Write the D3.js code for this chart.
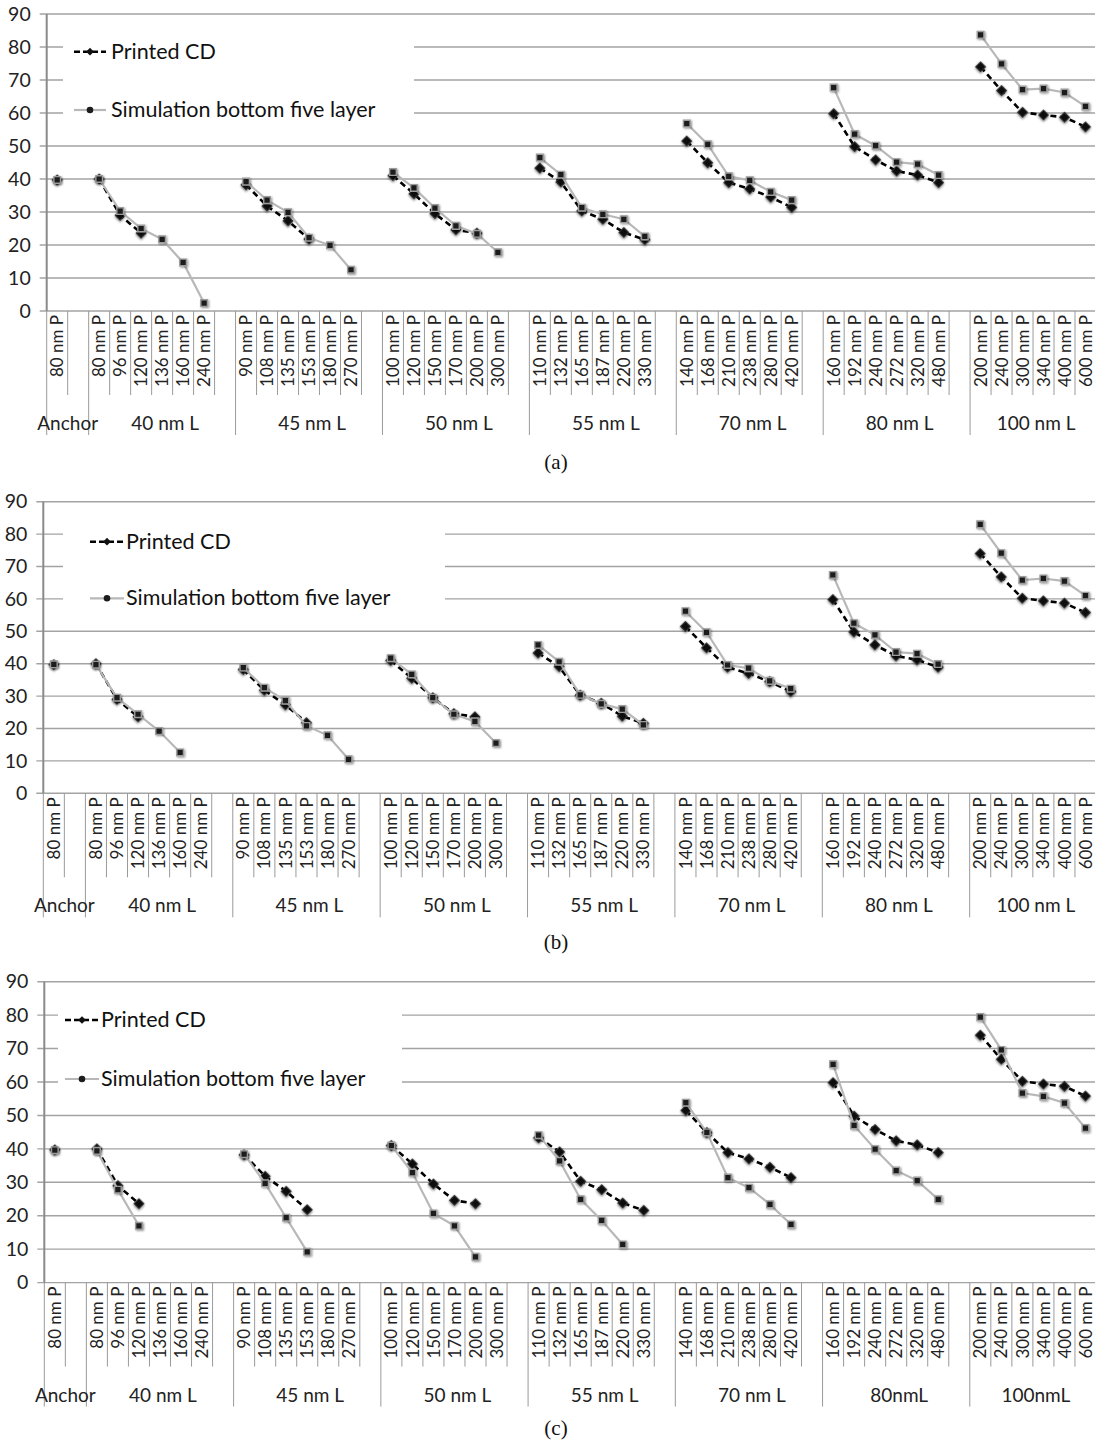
<!DOCTYPE html>
<html>
<head>
<meta charset="utf-8">
<script src="https://cdn.jsdelivr.net/npm/d3@7"></script>
<style>
  body { margin: 0; background: #fff; }
  svg { display: block; font-family: Lato, "Open Sans", sans-serif; }
</style>
</head>
<body>
<svg id="chart" width="1095" height="1448"></svg>
<script>
/* Printed CD vs. simulated CD (bottom five layers), three panels sharing one category axis.
   Empty slots separate the line-width groups, so lines break between groups. */

// one entry per category slot ("" = spacer slot between groups)
const SLOT_LABELS = [
  "80 nm P", "",
  "80 nm P", "96 nm P", "120 nm P", "136 nm P", "160 nm P", "240 nm P", "",
  "90 nm P", "108 nm P", "135 nm P", "153 nm P", "180 nm P", "270 nm P", "",
  "100 nm P", "120 nm P", "150 nm P", "170 nm P", "200 nm P", "300 nm P", "",
  "110 nm P", "132 nm P", "165 nm P", "187 nm P", "220 nm P", "330 nm P", "",
  "140 nm P", "168 nm P", "210 nm P", "238 nm P", "280 nm P", "420 nm P", "",
  "160 nm P", "192 nm P", "240 nm P", "272 nm P", "320 nm P", "480 nm P", "",
  "200 nm P", "240 nm P", "300 nm P", "340 nm P", "400 nm P", "600 nm P"
];
const GROUP_SIZES = [2, 7, 7, 7, 7, 7, 7, 6];
const GROUP_LABELS_AB = ["Anchor", "40 nm L", "45 nm L", "50 nm L", "55 nm L", "70 nm L", "80 nm L", "100 nm L"];
const GROUP_LABELS_C  = ["Anchor", "40 nm L", "45 nm L", "50 nm L", "55 nm L", "70 nm L", "80nmL", "100nmL"];

const Y_TICKS = [0, 10, 20, 30, 40, 50, 60, 70, 80, 90];

// measured CD, same in every panel
const PRINTED = [
  39.7, null,
  40, 29, 23.6, null, null, null, null,
  38.2, 31.8, 27.3, 21.8, null, null, null,
  41, 35.5, 29.5, 24.6, 23.6, null, null,
  43.3, 39.1, 30.3, 27.8, 23.8, 21.6, null,
  51.5, 44.9, 38.9, 37, 34.5, 31.4, null,
  59.8, 49.8, 45.8, 42.4, 41.2, 38.9, null,
  74, 66.8, 60.2, 59.4, 58.7, 55.8
];
const SIM_A = [
  39.7, null,
  40, 30.3, 25, 21.7, 14.7, 2.4, null,
  39.2, 33.6, 29.9, 22.2, 19.9, 12.5, null,
  42.1, 37.3, 31.2, 25.8, 23.4, 17.8, null,
  46.5, 41.3, 31.3, 29.3, 27.8, 22.6, null,
  56.8, 50.5, 40.8, 39.6, 36.1, 33.6, null,
  67.7, 53.6, 50.1, 45.1, 44.5, 41.2, null,
  83.7, 74.9, 67.1, 67.4, 66.2, 62
];
const SIM_B = [
  39.8, null,
  39.7, 29.5, 24.4, 19.2, 12.6, null, null,
  38.8, 32.6, 28.6, 20.8, 17.9, 10.5, null,
  41.7, 36.7, 29.5, 24.4, 22.2, 15.5, null,
  45.8, 40.6, 30.4, 27.6, 26, 21.1, null,
  56.2, 49.7, 39.6, 38.6, 34.7, 32.3, null,
  67.4, 52.5, 48.9, 43.6, 43.1, 39.9, null,
  83, 74.1, 65.8, 66.3, 65.5, 61
];
const SIM_C = [
  39.6, null,
  39.4, 27.8, 17, null, null, null, null,
  38.4, 29.7, 19.4, 9.2, null, null, null,
  41, 32.9, 20.7, 17, 7.7, null, null,
  44.1, 36.4, 24.9, 18.6, 11.4, null, null,
  53.8, 44.9, 31.4, 28.4, 23.4, 17.4, null,
  65.3, 47, 39.9, 33.5, 30.5, 24.9, null,
  79.4, 69.6, 56.7, 55.7, 53.7, 46.2
];

const RIGHT = 1096;
const GRID = "#a3a3a3";

// layout of each panel (pixel boxes only, values come from the arrays above)
const PANELS = [
  { sim: SIM_A, groups: GROUP_LABELS_AB, top: 14, bottom: 311, left: 46.7, caption: "(a)", capY: 469,
    legend: { x0: 63, x1: 414, y0: 24, y1: 136, sx0: 74, sx1: 106, tx: 111, ly1: 51.7, ly2: 110 } },
  { sim: SIM_B, groups: GROUP_LABELS_AB, top: 501.7, bottom: 793.3, left: 43.3, caption: "(b)", capY: 949,
    legend: { x0: 63, x1: 445, y0: 512, y1: 624, sx0: 90, sx1: 124, tx: 126, ly1: 541.7, ly2: 598.3 } },
  { sim: SIM_C, groups: GROUP_LABELS_C, top: 981.7, bottom: 1282.6, left: 44.3, caption: "(c)", capY: 1435,
    legend: { x0: 58, x1: 402, y0: 992, y1: 1105, sx0: 65, sx1: 99, tx: 101, ly1: 1020, ly2: 1079 } }
];

const svg = d3.select("#chart");

// soft shadow like the spreadsheet markers
const defs = svg.append("defs");
defs.append("filter").attr("id", "shadow").attr("x", "-50%").attr("y", "-50%").attr("width", "200%").attr("height", "200%")
  .append("feDropShadow").attr("dx", 1).attr("dy", 1).attr("stdDeviation", 1.1)
  .attr("flood-color", "#000").attr("flood-opacity", 0.45);

const diamond = d3.symbol(d3.symbolSquare, 52)();
const square  = d3.symbol(d3.symbolSquare, 44)();

function drawPanel(p) {
  const g = svg.append("g");
  const x = d3.scaleBand().domain(d3.range(SLOT_LABELS.length)).range([p.left, RIGHT]);
  const y = d3.scaleLinear().domain([0, 90]).range([p.bottom, p.top]);
  const cx = i => x(i) + x.bandwidth() / 2;

  // horizontal gridlines (0 line doubles as the x axis)
  g.append("g").selectAll("line").data(Y_TICKS).join("line")
    .attr("x1", p.left - 7).attr("x2", RIGHT)
    .attr("y1", d => y(d)).attr("y2", d => y(d))
    .attr("stroke", GRID).attr("stroke-width", 1.4);

  // y tick labels
  const yAxis = g.append("g").attr("transform", `translate(${p.left - 9},0)`)
    .call(d3.axisLeft(y).tickValues(Y_TICKS).tickSize(0).tickPadding(7));
  yAxis.select(".domain").remove();
  yAxis.selectAll("text").attr("font-size", 19.5).attr("font-family", "Lato").attr("fill", "#222");

  // white legend box hides the gridlines behind it
  const L = p.legend;
  g.append("rect").attr("x", L.x0).attr("y", L.y0)
    .attr("width", L.x1 - L.x0).attr("height", L.y1 - L.y0).attr("fill", "#fff");

  // category separators: short at every slot edge, long at group edges
  const groupEdges = new Set([0]);
  d3.cumsum(GROUP_SIZES).forEach(v => groupEdges.add(v));
  const edgeX = i => i < SLOT_LABELS.length ? x(i) : RIGHT;
  g.append("g").selectAll("line").data(d3.range(SLOT_LABELS.length + 1)).join("line")
    .attr("x1", edgeX).attr("x2", edgeX)
    .attr("y1", p.bottom).attr("y2", i => p.bottom + (groupEdges.has(i) ? 124 : 84))
    .attr("stroke", "#9a9a9a").attr("stroke-width", 1);

  // y axis line
  g.append("line").attr("x1", p.left).attr("x2", p.left)
    .attr("y1", p.top).attr("y2", p.bottom)
    .attr("stroke", "#8a8a8a").attr("stroke-width", 2);

  // rotated slot labels
  const xAxis = g.append("g").attr("transform", `translate(0,${p.bottom})`)
    .call(d3.axisBottom(x).tickSize(0).tickFormat(i => SLOT_LABELS[i]));
  xAxis.select(".domain").remove();
  xAxis.selectAll("text")
    .attr("font-size", 17).attr("font-family", "Lato").attr("fill", "#222")
    .attr("text-anchor", "end")
    .attr("transform", "rotate(-90)")
    .attr("x", -4).attr("y", 0).attr("dy", "0.36em");

  // group labels centred under their whole group span
  const starts = [0, ...d3.cumsum(GROUP_SIZES)];
  g.append("g").selectAll("text").data(p.groups).join("text")
    .attr("x", (d, i) => (edgeX(starts[i]) + edgeX(starts[i + 1])) / 2 + (i === 0 ? 0 : 3))
    .attr("y", p.bottom + 119)
    .attr("text-anchor", "middle").attr("font-size", 19).attr("fill", "#222")
    .text(d => d);

  // series
  const line = d3.line().defined(d => d.v != null).x(d => cx(d.i)).y(d => y(d.v));
  const printed = PRINTED.map((v, i) => ({ v, i }));
  const sim = p.sim.map((v, i) => ({ v, i }));

  g.append("path").datum(printed).attr("d", line)
    .attr("fill", "none").attr("stroke", "#000").attr("stroke-width", 2.6)
    .attr("stroke-dasharray", "6,4");
  g.append("g").selectAll("path").data(printed.filter(d => d.v != null)).join("path")
    .attr("d", diamond)
    .attr("transform", d => `translate(${cx(d.i)},${y(d.v)}) rotate(45)`)
    .attr("fill", "#111").attr("stroke", "#333").attr("filter", "url(#shadow)");

  g.append("path").datum(sim).attr("d", line)
    .attr("fill", "none").attr("stroke", "#b8b8b8").attr("stroke-width", 2.2);
  g.append("g").selectAll("path").data(sim.filter(d => d.v != null)).join("path")
    .attr("d", square)
    .attr("transform", d => `translate(${cx(d.i)},${y(d.v)})`)
    .attr("fill", "#1c1c1c").attr("stroke", "#9c9c9c").attr("stroke-width", 1.4)
    .attr("filter", "url(#shadow)");

  // legend
  const lg = g.append("g").attr("font-size", 21.5).attr("fill", "#111");
  lg.append("line").attr("x1", L.sx0).attr("x2", L.sx1).attr("y1", L.ly1).attr("y2", L.ly1)
    .attr("stroke", "#000").attr("stroke-width", 2.4).attr("stroke-dasharray", "6,3");
  lg.append("path").attr("d", d3.symbol(d3.symbolSquare, 30)())
    .attr("transform", `translate(${(L.sx0 + L.sx1) / 2},${L.ly1}) rotate(45)`).attr("fill", "#111");
  lg.append("text").attr("x", L.tx).attr("y", L.ly1 + 7).text("Printed CD");

  lg.append("line").attr("x1", L.sx0).attr("x2", L.sx1).attr("y1", L.ly2).attr("y2", L.ly2)
    .attr("stroke", "#b8b8b8").attr("stroke-width", 2.2);
  lg.append("circle").attr("cx", (L.sx0 + L.sx1) / 2).attr("cy", L.ly2).attr("r", 3.3).attr("fill", "#1c1c1c");
  lg.append("text").attr("x", L.tx).attr("y", L.ly2 + 7).text("Simulation bottom five layer");

  // caption
  svg.append("text").attr("x", 556).attr("y", p.capY)
    .attr("text-anchor", "middle").attr("font-family", "'Liberation Serif', 'DejaVu Serif', serif")
    .attr("font-size", 21).attr("fill", "#111").text(p.caption);
}

PANELS.forEach(drawPanel);
</script>
</body>
</html>
